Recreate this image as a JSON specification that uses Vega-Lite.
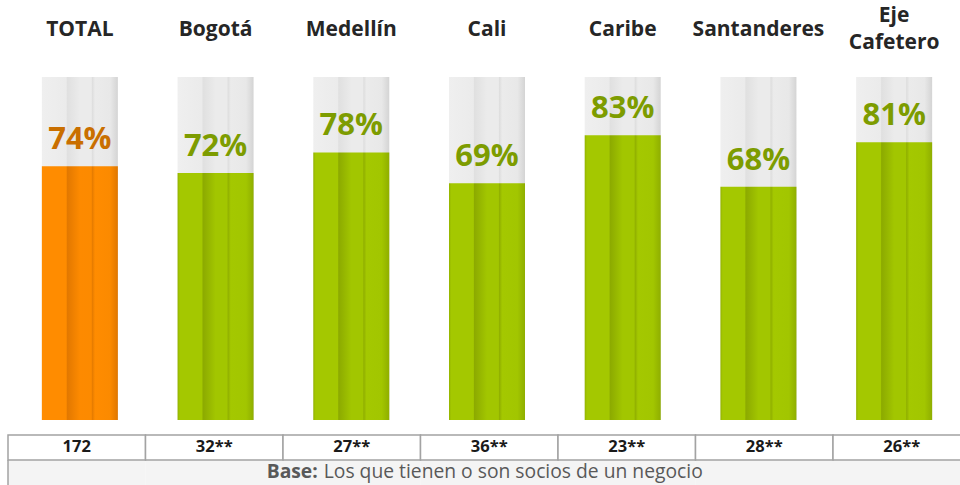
{
  "$schema": "https://vega.github.io/schema/vega-lite/v6.json",
  "width": 960,
  "height": 485,
  "autosize": "none",
  "padding": 0,
  "background": "white",
  "config": {"view": {"stroke": null}, "font": "Open Sans"},
  "data": {"values": [
    {"region": "TOTAL", "pct": 74, "label": "74%", "n": "172"},
    {"region": "Bogotá", "pct": 72, "label": "72%", "n": "32**"},
    {"region": "Medellín", "pct": 78, "label": "78%", "n": "27**"},
    {"region": "Cali", "pct": 69, "label": "69%", "n": "36**"},
    {"region": "Caribe", "pct": 83, "label": "83%", "n": "23**"},
    {"region": "Santanderes", "pct": 68, "label": "68%", "n": "28**"},
    {"region": "Eje Cafetero", "pct": 81, "label": "81%", "n": "26**"}
  ]},
  "resolve": {"scale": {"x": "independent"}},
  "layer": [
    {
      "encoding": {
        "x": {"field": "region", "type": "nominal", "sort": null, "axis": null,
              "scale": {"range": [12, 962], "paddingInner": 0.44, "paddingOuter": 0.22}}
      },
      "layer": [
        {
          "mark": {"type": "bar", "fill": {"gradient": "linear", "x1": 0, "x2": 1, "y1": 0, "y2": 0, "stops": [
            {"offset": 0, "color": "#efefef"}, {"offset": 0.32, "color": "#ebebeb"},
            {"offset": 0.335, "color": "#e0e0e0"}, {"offset": 0.5, "color": "#ebebeb"},
            {"offset": 0.65, "color": "#ebebeb"}, {"offset": 0.665, "color": "#dedede"},
            {"offset": 0.7, "color": "#ebebeb"}, {"offset": 0.9, "color": "#e8e8e8"},
            {"offset": 1, "color": "#d4d4d4"}]}},
          "encoding": {
            "y": {"datum": 100, "type": "quantitative", "axis": null, "scale": {"domain": [-18.95, 122.45], "nice": false, "zero": false}},
            "y2": {"datum": 0}
          }
        },
        {
          "transform": [{"filter": "datum.region === 'TOTAL'"}],
          "mark": {"type": "bar", "fill": {"gradient": "linear", "x1": 0, "x2": 1, "y1": 0, "y2": 0, "stops": [
            {"offset": 0, "color": "#ff8c00"}, {"offset": 0.32, "color": "#ff8c00"},
            {"offset": 0.335, "color": "#e27800"}, {"offset": 0.5, "color": "#fd8a00"},
            {"offset": 0.65, "color": "#fc8a00"}, {"offset": 0.665, "color": "#e67c00"},
            {"offset": 0.7, "color": "#ff8c00"}, {"offset": 0.9, "color": "#fb8a00"},
            {"offset": 1, "color": "#e07700"}]}},
          "encoding": {
            "y": {"field": "pct", "type": "quantitative", "axis": null},
            "y2": {"datum": 0}
          }
        },
        {
          "transform": [{"filter": "datum.region !== 'TOTAL'"}],
          "mark": {"type": "bar", "fill": {"gradient": "linear", "x1": 0, "x2": 1, "y1": 0, "y2": 0, "stops": [
            {"offset": 0, "color": "#93b300"}, {"offset": 0.03, "color": "#a4c800"}, {"offset": 0.32, "color": "#a4c800"},
            {"offset": 0.335, "color": "#8caa00"}, {"offset": 0.5, "color": "#a2c600"},
            {"offset": 0.65, "color": "#a2c600"}, {"offset": 0.665, "color": "#91b000"},
            {"offset": 0.7, "color": "#a4c800"}, {"offset": 0.9, "color": "#a2c600"},
            {"offset": 1, "color": "#8fae00"}]}},
          "encoding": {
            "y": {"field": "pct", "type": "quantitative", "axis": null},
            "y2": {"datum": 0}
          }
        },
        {
          "mark": {"type": "text", "fontSize": 31, "fontWeight": "bold", "baseline": "alphabetic", "dy": -17, "font": "Open Sans"},
          "encoding": {
            "y": {"field": "pct", "type": "quantitative", "axis": null},
            "text": {"field": "label"},
            "color": {"condition": {"test": "datum.region === 'TOTAL'", "value": "#c96f00"}, "value": "#7d9c00"}
          }
        },
        {
          "transform": [{"filter": "datum.region !== 'Eje Cafetero'"}],
          "mark": {"type": "text", "fontSize": 21, "fontWeight": "bold", "baseline": "middle", "color": "#262626", "font": "Open Sans"},
          "encoding": {
            "y": {"datum": 113.7, "type": "quantitative"},
            "text": {"field": "region"}
          }
        },
        {
          "transform": [{"filter": "datum.region === 'Eje Cafetero'"}],
          "mark": {"type": "text", "fontSize": 21, "fontWeight": "bold", "baseline": "middle", "color": "#262626", "lineBreak": " ", "lineHeight": 27, "font": "Open Sans"},
          "encoding": {
            "y": {"datum": 117.9, "type": "quantitative"},
            "text": {"field": "region"}
          }
        }
      ]
    },
    {
      "encoding": {
        "x": {"field": "region", "type": "nominal", "sort": null, "axis": null,
              "scale": {"range": [8, 970.5], "paddingInner": 0, "paddingOuter": 0}}
      },
      "layer": [
        {
          "mark": {"type": "rect", "fill": "#f4f4f4", "strokeWidth": 0},
          "encoding": {"y": {"datum": -11.66, "type": "quantitative"}, "y2": {"datum": -18.95}}
        },
        {
          "mark": {"type": "rect", "fill": "white", "stroke": "#a3a3a3", "strokeWidth": 1.5},
          "encoding": {"y": {"datum": -4.37, "type": "quantitative"}, "y2": {"datum": -11.66}}
        },
        {
          "transform": [{"filter": "datum.region === 'TOTAL'"}],
          "mark": {"type": "rule", "stroke": "#a3a3a3", "strokeWidth": 1.5},
          "encoding": {"x": {"field": "region", "type": "nominal", "bandPosition": 0, "sort": null}, "y": {"datum": -11.66, "type": "quantitative"}, "y2": {"datum": -18.95}}
        },
        {
          "mark": {"type": "text", "fontSize": 16.5, "fontWeight": "bold", "baseline": "middle", "color": "#1a1a1a", "font": "Open Sans"},
          "encoding": {"y": {"datum": -8.0, "type": "quantitative"}, "text": {"field": "n"}}
        },
        {
          "transform": [{"filter": "datum.region === 'Medellín'"}],
          "mark": {"type": "text", "fontSize": 19.3, "fontWeight": "bold", "baseline": "middle", "align": "right", "dx": -34, "color": "#595959", "font": "Open Sans"},
          "encoding": {"y": {"datum": -15.3, "type": "quantitative"}, "text": {"value": "Base:"}}
        },
        {
          "transform": [{"filter": "datum.region === 'Medellín'"}],
          "mark": {"type": "text", "fontSize": 19.3, "baseline": "middle", "align": "left", "dx": -28, "color": "#595959", "font": "Open Sans"},
          "encoding": {"y": {"datum": -15.3, "type": "quantitative"}, "text": {"value": "Los que tienen o son socios de un negocio"}}
        }
      ]
    }
  ]
}
